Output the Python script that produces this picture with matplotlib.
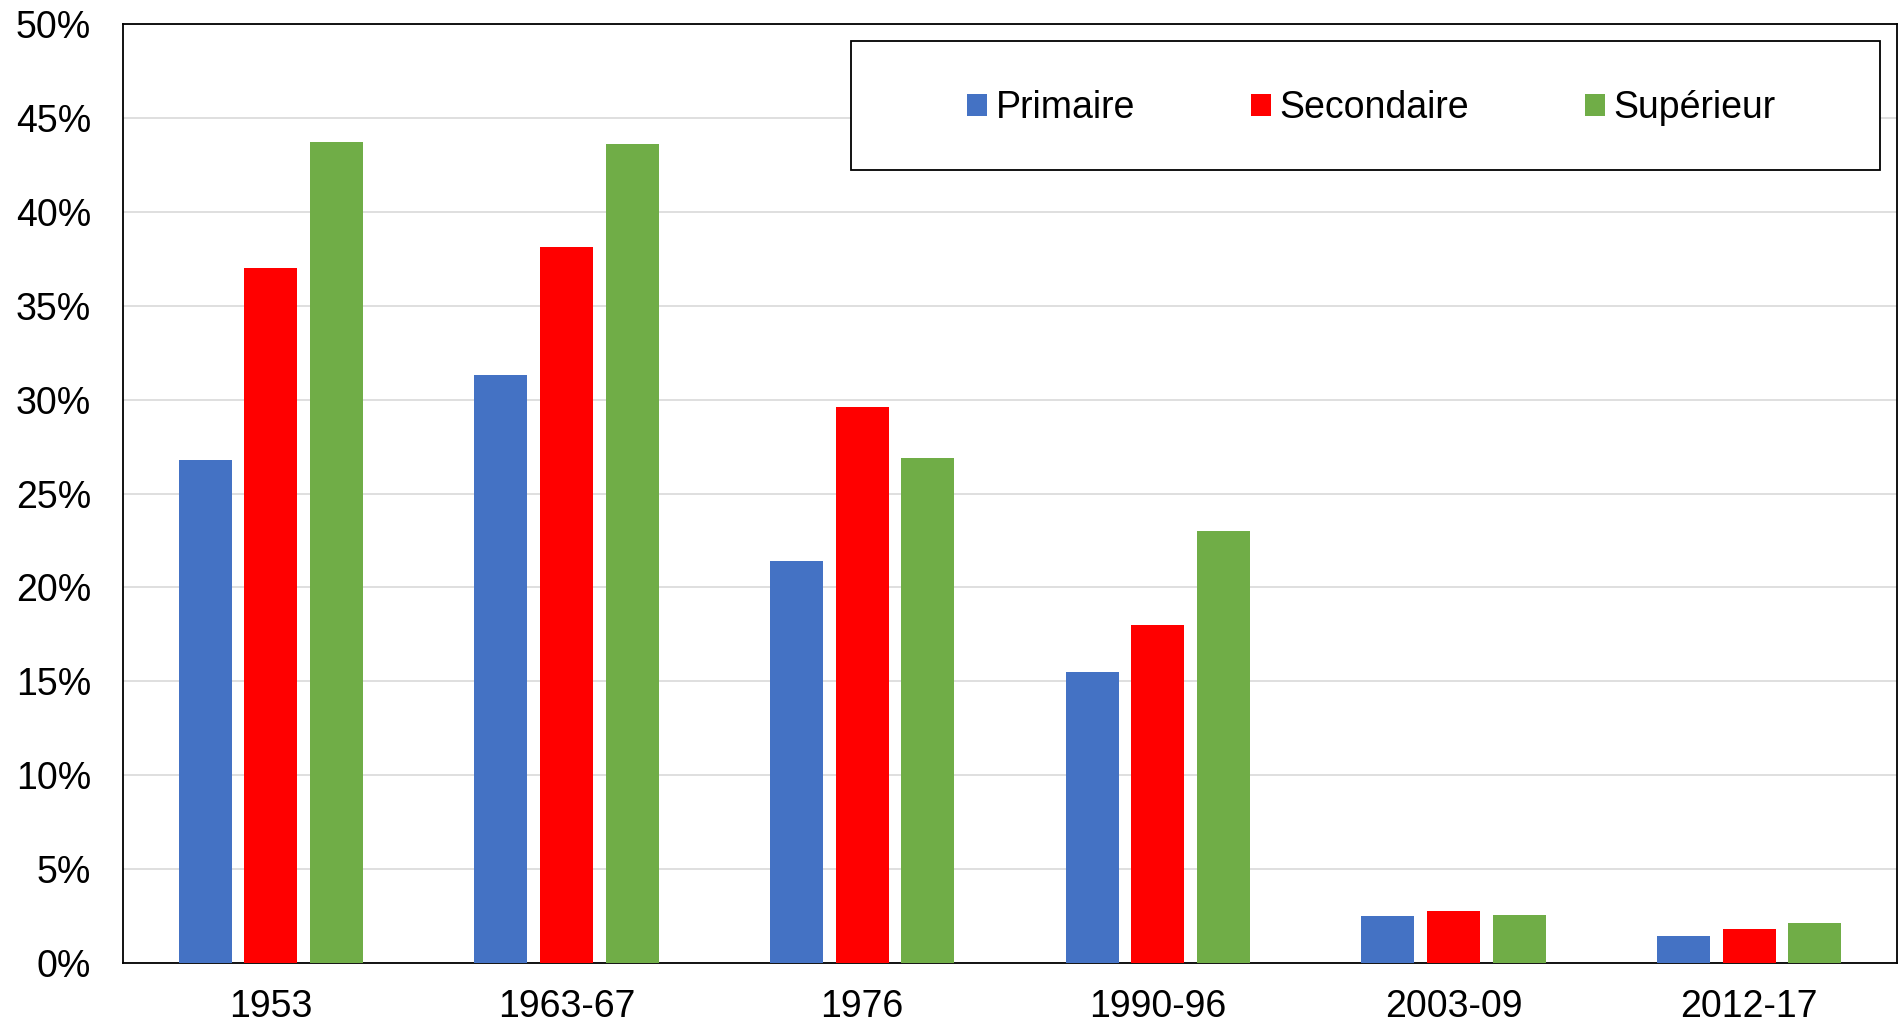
import matplotlib
matplotlib.use("Agg")
import matplotlib.pyplot as plt
from matplotlib.patches import Rectangle
import numpy as np

categories = ["1953", "1963-67", "1976", "1990-96", "2003-09", "2012-17"]
series_names = ["Primaire", "Secondaire", "Supérieur"]
primaire = [26.8, 31.3, 21.4, 15.5, 2.5, 1.45]
secondaire = [37.0, 38.1, 29.6, 18.0, 2.75, 1.8]
superieur = [43.7, 43.6, 26.9, 23.0, 2.55, 2.15]
colors = ["#4472C4", "#FF0000", "#70AD47"]
ytick_values = [0, 5, 10, 15, 20, 25, 30, 35, 40, 45, 50]
ytick_labels = [f"{v}%" for v in ytick_values]

plt.rcParams['font.family'] = ['Liberation Sans', 'DejaVu Sans']

W, H = 1899, 1025
FS = 27
fig = plt.figure(figsize=(W / 100, H / 100), dpi=100)
ax = fig.add_axes([123 / W, 1 - 963 / H, (1897 - 123) / W, (963 - 24) / H])

x = np.arange(len(categories))
bw = 0.18
step = 0.222
handles = []
for i, (vals, name, c) in enumerate(zip([primaire, secondaire, superieur], series_names, colors)):
    b = ax.bar(x + (i - 1) * step, vals, width=bw, color=c, label=name, zorder=3)
    handles.append(b)

ax.set_xlim(-0.5, len(categories) - 0.5)
ax.set_ylim(0, 50)
ax.set_yticks(ytick_values)
ax.set_yticklabels(ytick_labels)
ax.set_xticks(x)
ax.set_xticklabels(categories)
ax.tick_params(axis='both', length=0, labelsize=FS, colors='black')
ax.tick_params(axis='y', pad=23)
ax.tick_params(axis='x', pad=19)
ax.yaxis.grid(True, color='#d9d9d9', linewidth=1.2, zorder=0)
ax.set_axisbelow(True)
for s in ax.spines.values():
    s.set_color('black')
    s.set_linewidth(1.3)

# legend frame
lx0, ly0, lx1, ly1 = 851, 41, 1880, 170
fig.patches.append(Rectangle((lx0 / W, 1 - ly1 / H), (lx1 - lx0) / W, (ly1 - ly0) / H,
                             transform=fig.transFigure, facecolor='white',
                             edgecolor='black', linewidth=1.3, zorder=5))
leg = fig.legend(handles=handles, labels=series_names, ncol=3, frameon=False,
                 loc='center', bbox_to_anchor=((969 + 1774) / 2 / W, 1 - 108.5 / H),
                 bbox_transform=fig.transFigure, fontsize=FS,
                 handlelength=0.53, handleheight=0.53, handletextpad=0.22,
                 columnspacing=3.1, borderpad=0, borderaxespad=0)
leg.set_zorder(6)

fig.savefig("out.png", dpi=100)
